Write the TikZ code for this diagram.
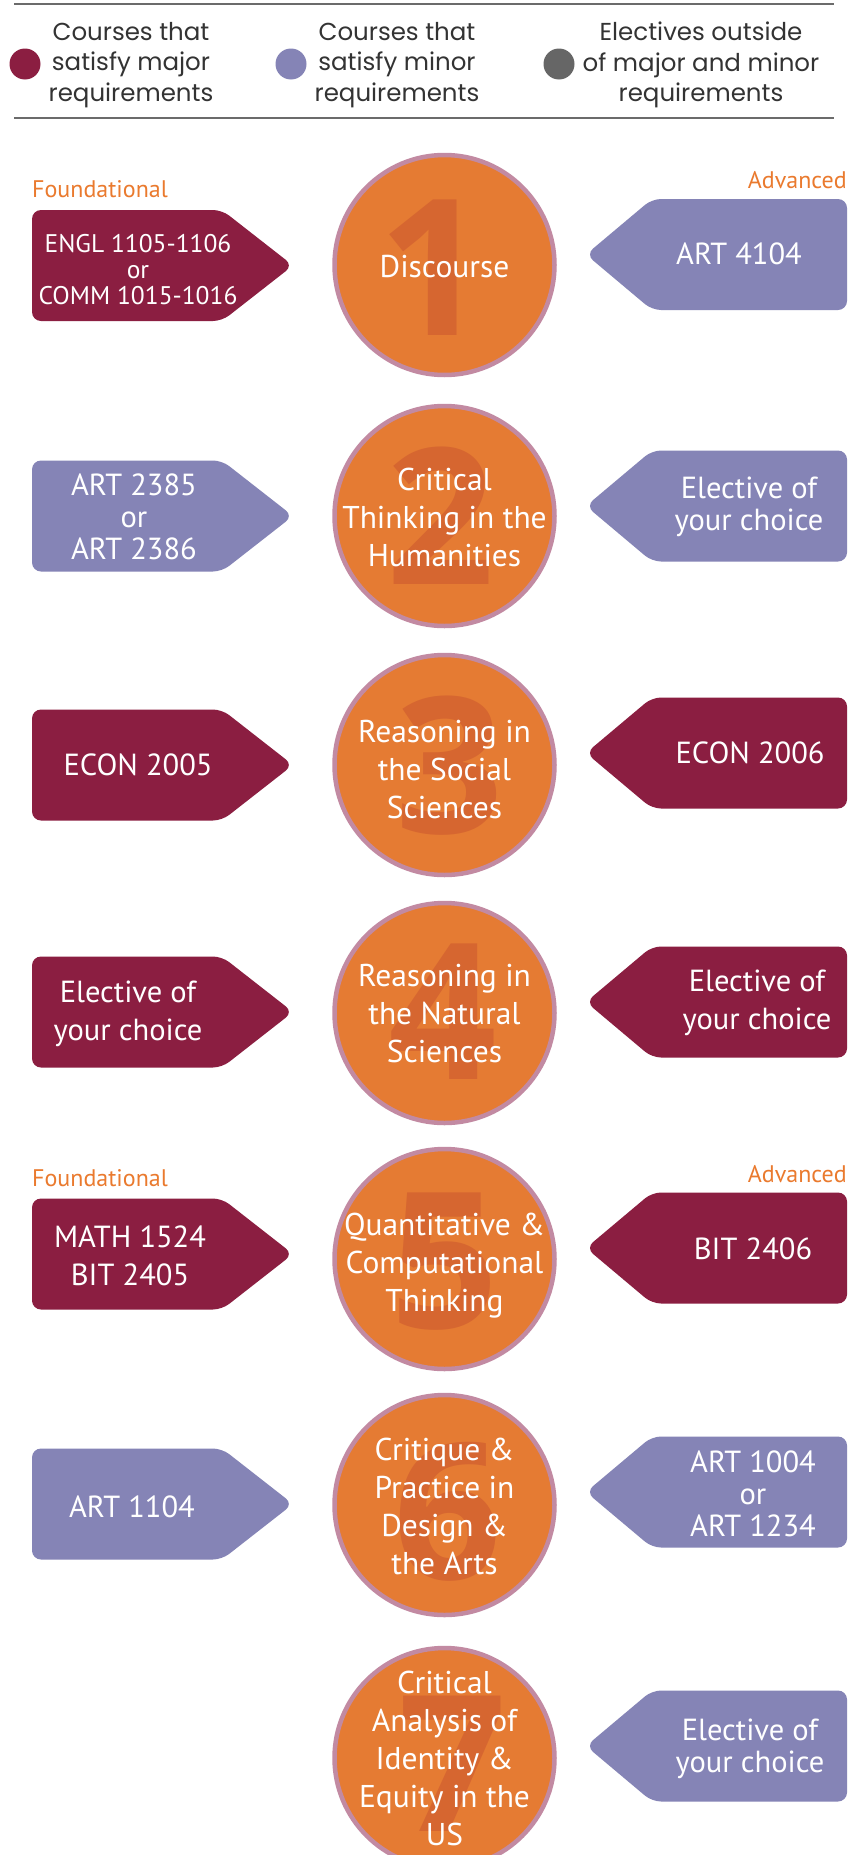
\documentclass[tikz,border=0pt]{standalone}
\usepackage{fontspec}
\setmainfont{PT Sans}
\newfontfamily\legfont{Poppins}
\newfontfamily\digfont{Open Sans}
\definecolor{cmaroon}{HTML}{8B1E41}
\definecolor{clav}{HTML}{8584B6}
\definecolor{cdot}{HTML}{666666}
\definecolor{corange}{HTML}{E57B33}
\definecolor{cdigit}{HTML}{D66630}
\definecolor{cborder}{HTML}{C28AA2}
\definecolor{clabel}{HTML}{EA7A2E}
\definecolor{cline}{HTML}{6B6B6B}
\definecolor{ctext}{HTML}{333333}
\newcommand\LBox[2]{\fill[#2, rounded corners=9pt] (32,{#1-55.5}) -- (222,{#1-55.5}) -- (293,#1) -- (222,{#1+55.5}) -- (32,{#1+55.5}) -- cycle;}
\newcommand\RBox[2]{\fill[#2, rounded corners=9pt] (586,#1) -- (652,{#1-55.5}) -- (847,{#1-55.5}) -- (847,{#1+55.5}) -- (652,{#1+55.5}) -- cycle;}
\tikzset{
  boxtxt/.style={text=white, font=\fontsize{30.5}{32}\selectfont, align=center, inner sep=0pt},
  widetxt/.style={text=white, font=\fontsize{30.5}{37.5}\selectfont, align=center, inner sep=0pt},
  smalltxt/.style={text=white, font=\fontsize{25.5}{26}\selectfont, align=center, inner sep=0pt},
  circtxt/.style={text=white, font=\fontsize{31.5}{38}\selectfont, align=center, inner sep=0pt},
  ring/.style={fill=corange, draw=cborder, line width=4.5pt},
  digit/.style={text=cdigit, font=\digfont\fontsize{190}{190}\bfseries\selectfont, inner sep=0pt},
  lbl/.style={text=clabel, font=\fontsize{24}{26}\selectfont, inner sep=0pt},
  legtxt/.style={text=ctext, font=\legfont\fontsize{24.5}{30.5}\selectfont, align=center, inner sep=0pt},
  rule/.style={draw=cline, line width=2.5pt}
}
\begin{document}
\begin{tikzpicture}[x=1pt,y=-1pt]
\useasboundingbox (0,0) rectangle (848,1855);
\clip (0,0) rectangle (848,1855);
\fill[white] (0,0) rectangle (848,1855);
% header
\draw[rule] (14,4) -- (834,4);
\draw[rule] (14,118) -- (834,118);
\fill[cmaroon] (25,64) circle (15.5);
\fill[clav] (291,64) circle (15.5);
\fill[cdot] (559,64) circle (15.5);
\node[legtxt] (leg1) at (131,65) {Courses that\\satisfy major\\requirements};
\node[legtxt] (leg2) at (397,65) {Courses that\\satisfy minor\\requirements};
\node[legtxt] (leg3) at (701,65) {Electives outside\\of major and minor\\requirements};
% labels
\node[lbl, anchor=west] (f1) at (32,189) {Foundational};
\node[lbl, anchor=east] (a1) at (847,180) {Advanced};
\node[lbl, anchor=west] (f5) at (32,1178) {Foundational};
\node[lbl, anchor=east] (a5) at (847,1174) {Advanced};
% boxes
\LBox{265.5}{cmaroon}
\LBox{516}{clav}
\LBox{765}{cmaroon}
\LBox{1012}{cmaroon}
\LBox{1254}{cmaroon}
\LBox{1504}{clav}
\RBox{254.5}{clav}
\RBox{506}{clav}
\RBox{753}{cmaroon}
\RBox{1002}{cmaroon}
\RBox{1248}{cmaroon}
\RBox{1492}{clav}
\RBox{1746}{clav}
% box texts
\node[smalltxt] (l1) at (138,270) {ENGL 1105-1106\\or\\COMM 1015-1016};
\node[boxtxt] (l2) at (134,517) {ART 2385\\or\\ART 2386};
\node[boxtxt] (l3) at (138,765) {ECON 2005};
\node[widetxt] (l4) at (128,1014) {Elective of\\your choice};
\node[widetxt] (l5) at (130,1256) {MATH 1524\\BIT 2405};
\node[boxtxt] (l6) at (132,1507) {ART 1104};
\node[boxtxt] (r1) at (739,254) {ART 4104};
\node[boxtxt] (r2) at (749,507) {Elective of\\your choice};
\node[boxtxt] (r3) at (750,753) {ECON 2006};
\node[widetxt] (r4) at (757,1003) {Elective of\\your choice};
\node[boxtxt] (r5) at (753,1249) {BIT 2406};
\node[boxtxt] (r6) at (753,1494) {ART 1004\\or\\ART 1234};
\node[boxtxt] (r7) at (750,1749) {Elective of\\your choice};
% circles
\foreach \cy in {265,516,765,1013,1259,1505,1758}
  \draw[ring] (444.5,\cy) circle (110);
\node[digit] (d1) at (433,268) {1};
\node[digit] (d2) at (441,516) {2};
\node[digit] (d3) at (450,766) {3};
\node[digit] (d4) at (443,1012) {4};
\node[digit] (d5) at (445,1262) {5};
\node[digit] (d6) at (448,1512) {6};
\node[digit] (d7) at (453,1764) {7};
\node[circtxt] (t1) at (444.5,267) {Discourse};
\node[circtxt] (t2) at (444.5,517) {Critical\\Thinking in the\\Humanities};
\node[circtxt] (t3) at (444.5,770) {Reasoning in\\the Social\\Sciences};
\node[circtxt] (t4) at (444.5,1014) {Reasoning in\\the Natural\\Sciences};
\node[circtxt] (t5) at (444.5,1266) {Quantitative \&\\Computational\\Thinking};
\node[circtxt] (t6) at (444.5,1506) {Critique \&\\Practice in\\Design \&\\the Arts};
\node[circtxt] (t7) at (444.5,1758) {Critical\\Analysis of\\Identity \&\\Equity in the\\US};
\end{tikzpicture}
\end{document}
